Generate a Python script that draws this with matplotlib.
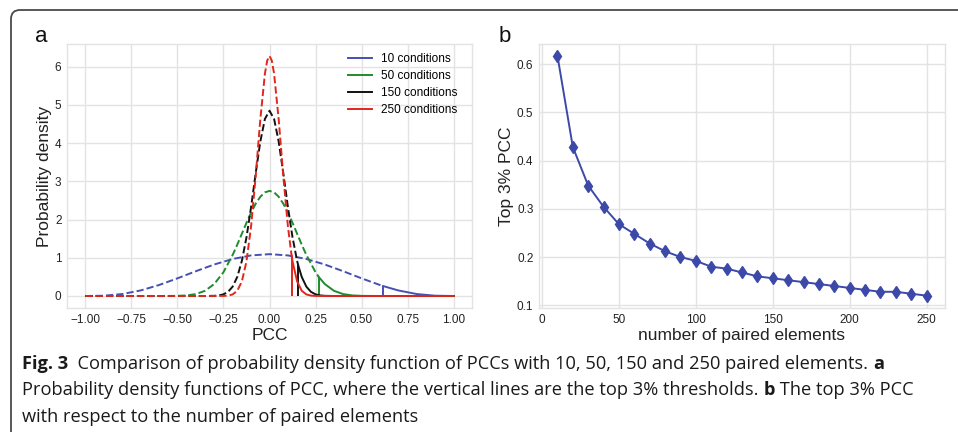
import matplotlib
matplotlib.use('Agg')
import matplotlib.pyplot as plt
from matplotlib.patches import FancyBboxPatch
from matplotlib.transforms import IdentityTransform
import numpy as np

# ---- data ----
conditions = [10, 50, 150, 250]
thresholds = [0.617, 0.268, 0.156, 0.120]          # top 3% PCC (vertical lines)
thr_density = [0.260, 0.495, 0.802, 1.054]         # density at the threshold

pcc_10 = [-1.0, -0.9, -0.8, -0.7, -0.6, -0.5, -0.4, -0.3, -0.2, -0.1, 0.0,
          0.1, 0.2, 0.3, 0.4, 0.5, 0.6, 0.617, 0.7, 0.8, 0.9, 1.0]
dens_10 = [0.0, 0.0075, 0.051, 0.145, 0.287, 0.462, 0.648, 0.824, 0.968, 1.061, 1.094,
           1.061, 0.968, 0.824, 0.648, 0.462, 0.287, 0.260, 0.145, 0.051, 0.0075, 0.0]

pcc_50 = [-1.0, -0.6, -0.5, -0.45, -0.4, -0.35, -0.3, -0.25,
          -0.2, -0.175, -0.15, -0.125, -0.1, -0.075, -0.05, -0.025, 0.0,
          0.025, 0.05, 0.075, 0.1, 0.125, 0.15, 0.175, 0.2,
          0.25, 0.268, 0.3, 0.35, 0.4, 0.45, 0.5, 0.6, 1.0]
dens_50 = [0.0, 0.0, 0.0037, 0.0151, 0.0498, 0.136, 0.314, 0.623,
           1.075, 1.344, 1.629, 1.914, 2.182, 2.414, 2.595, 2.710, 2.749,
           2.710, 2.595, 2.414, 2.182, 1.914, 1.629, 1.344, 1.075,
           0.623, 0.495, 0.314, 0.136, 0.0498, 0.0151, 0.0037, 0.0, 0.0]

pcc_150 = [-1.0, -0.35, -0.3, -0.275, -0.25, -0.225, -0.2, -0.175, -0.15, -0.125,
           -0.1, -0.075, -0.05, -0.025, 0.0,
           0.025, 0.05, 0.075, 0.1, 0.125, 0.15, 0.156, 0.175, 0.2, 0.225,
           0.25, 0.275, 0.3, 0.35, 1.0]
dens_150 = [0.0, 0.0, 0.0050, 0.0156, 0.0436, 0.109, 0.246, 0.500, 0.920, 1.535,
            2.326, 3.210, 4.036, 4.629, 4.845,
            4.629, 4.036, 3.210, 2.326, 1.535, 0.920, 0.802, 0.500, 0.246, 0.109,
            0.0436, 0.0156, 0.0050, 0.0, 0.0]

pcc_250 = [-1.0, -0.3, -0.25, -0.225, -0.2, -0.175, -0.15, -0.125, -0.1, -0.075,
           -0.05, -0.025, -0.0125, 0.0, 0.0125, 0.025, 0.05, 0.075, 0.1, 0.12,
           0.125, 0.15, 0.175, 0.2, 0.225, 0.25, 0.3, 1.0]
dens_250 = [0.0, 0.0, 0.0022, 0.0105, 0.0414, 0.137, 0.382, 0.905, 1.823, 3.136,
            4.613, 5.812, 6.157, 6.276, 6.157, 5.812, 4.613, 3.136, 1.823, 1.054,
            0.905, 0.382, 0.137, 0.0414, 0.0105, 0.0022, 0.0, 0.0]

curve_x = [pcc_10, pcc_50, pcc_150, pcc_250]
curve_y = [dens_10, dens_50, dens_150, dens_250]
curve_colors = ['#4650b4', '#1e8c2c', '#111111', '#e2261c']

n_elements = [10, 20, 30, 40, 50, 60, 70, 80, 90, 100, 110, 120, 130,
              140, 150, 160, 170, 180, 190, 200, 210, 220, 230, 240, 250]
top3_pcc = [0.617, 0.428, 0.348, 0.304, 0.268, 0.248, 0.228, 0.212, 0.200,
            0.192, 0.180, 0.176, 0.168, 0.160, 0.156, 0.152, 0.148, 0.144,
            0.140, 0.136, 0.132, 0.128, 0.128, 0.124, 0.120]

caption_lines = [
    [('Fig. 3', 'bold'), ('  Comparison of probability density function of PCCs with 10, 50, 150 and 250 paired elements. ', 'normal'), ('a', 'bold')],
    [('Probability density functions of PCC, where the vertical lines are the top 3% thresholds. ', 'normal'), ('b', 'bold'), (' The top 3% PCC', 'normal')],
    [('with respect to the number of paired elements', 'normal')],
]

W, H = 958, 432
GRID = '#e3e3e3'
TXT = '#222222'

plt.rcParams['font.family'] = ['Liberation Sans', 'DejaVu Sans']


def style_axes(ax):
    ax.set_facecolor('white')
    ax.grid(True, color=GRID, linewidth=1.0)
    ax.set_axisbelow(True)
    for sp in ax.spines.values():
        sp.set_color(GRID)
        sp.set_linewidth(1.0)
    ax.tick_params(length=0, labelsize=8.5, labelcolor=TXT, pad=4)


def px_axes(fig, left, top, right, bottom):
    return fig.add_axes([left / W, 1 - bottom / H, (right - left) / W, (bottom - top) / H])


def plot_density(ax):
    for xs, ys, n, thr, th_y, c in zip(curve_x, curve_y, conditions, thresholds, thr_density, curve_colors):
        xs = np.array(xs)
        ys = np.array(ys)
        left = xs <= thr
        right = xs >= thr
        ax.plot(xs[left], ys[left], '--', color=c, lw=1.4)
        ax.plot(xs[right], ys[right], '-', color=c, lw=1.4, label='%d conditions' % n)
        ax.vlines(thr, 0, th_y, color=c, lw=1.4)
    ax.set_xlim(-1.1, 1.1)
    ax.set_ylim(-0.314, 6.59)
    ticks = np.arange(-1.0, 1.01, 0.25)
    ax.set_xticks(ticks)
    ax.set_xticklabels([('%.2f' % v).replace('-', '\u2212') for v in ticks])
    ax.set_yticks(range(0, 7))
    ax.set_xlabel('PCC', fontsize=12.5, color=TXT, labelpad=2)
    ax.set_ylabel('Probability density', fontsize=12.5, color=TXT, labelpad=2)
    ax.legend(loc='upper left', bbox_to_anchor=(0.693, 0.965), frameon=False,
              fontsize=8.5, borderpad=0, borderaxespad=0, handlelength=2.1,
              handletextpad=0.75, labelspacing=0.42)


def plot_top3(ax):
    ax.plot(n_elements, top3_pcc, '-', color='#3d49a8', lw=1.4,
            marker='d', markersize=6.5)
    ax.set_xlim(-2, 262)
    ax.set_ylim(0.0944, 0.6415)
    ax.set_xticks(range(0, 251, 50))
    ax.set_yticks([0.1, 0.2, 0.3, 0.4, 0.5, 0.6])
    ax.set_xlabel('number of paired elements', fontsize=12.5, color=TXT, labelpad=2)
    ax.set_ylabel('Top 3% PCC', fontsize=12.5, color=TXT, labelpad=2)


def text_width(fig, renderer, s, **kw):
    t = fig.text(0, 0, s + '|', **kw)
    t2 = fig.text(0, 0, '|', **kw)
    w = t.get_window_extent(renderer).width - t2.get_window_extent(renderer).width
    t.remove()
    t2.remove()
    return w


def draw_caption(fig):
    renderer = fig.canvas.get_renderer()
    fam = ['Open Sans', 'DejaVu Sans']
    # fit the second line to its width in the reference (x 22 -> 917)
    line2 = caption_lines[1]
    w10 = sum(text_width(fig, renderer, s, fontsize=10, fontweight=wt, family=fam) for s, wt in line2)
    size = 10 * 895.0 / w10
    baselines = [369, 395, 422]
    for runs, yb in zip(caption_lines, baselines):
        x = 22.0
        for s, wt in runs:
            fig.text(x / W, 1 - yb / H, s, fontsize=size, fontweight=wt, family=fam,
                     color='#1a1a1a', va='baseline', ha='left')
            x += text_width(fig, renderer, s, fontsize=size, fontweight=wt, family=fam)


def main():
    fig = plt.figure(figsize=(W / 100, H / 100), dpi=100)
    fig.patch.set_facecolor('white')

    # rounded frame (only top / left edges visible)
    frame = FancyBboxPatch((11, -200), 1200, H - 10 + 200,
                           boxstyle='round,pad=0,rounding_size=9',
                           transform=IdentityTransform(), fill=False,
                           edgecolor='#4a4a4a', linewidth=1.3)
    fig.add_artist(frame)

    ax_a = px_axes(fig, 67, 44, 472, 308)
    ax_b = px_axes(fig, 539, 44, 945, 308)
    style_axes(ax_a)
    style_axes(ax_b)
    plot_density(ax_a)
    plot_top3(ax_b)

    fig.text(41 / W, 1 - 37 / H, 'a', fontsize=16, color='#111', ha='center', va='center')
    fig.text(505 / W, 1 - 36 / H, 'b', fontsize=16, color='#111', ha='center', va='center')

    draw_caption(fig)
    fig.savefig('out.png', dpi=100)


if __name__ == '__main__':
    main()
